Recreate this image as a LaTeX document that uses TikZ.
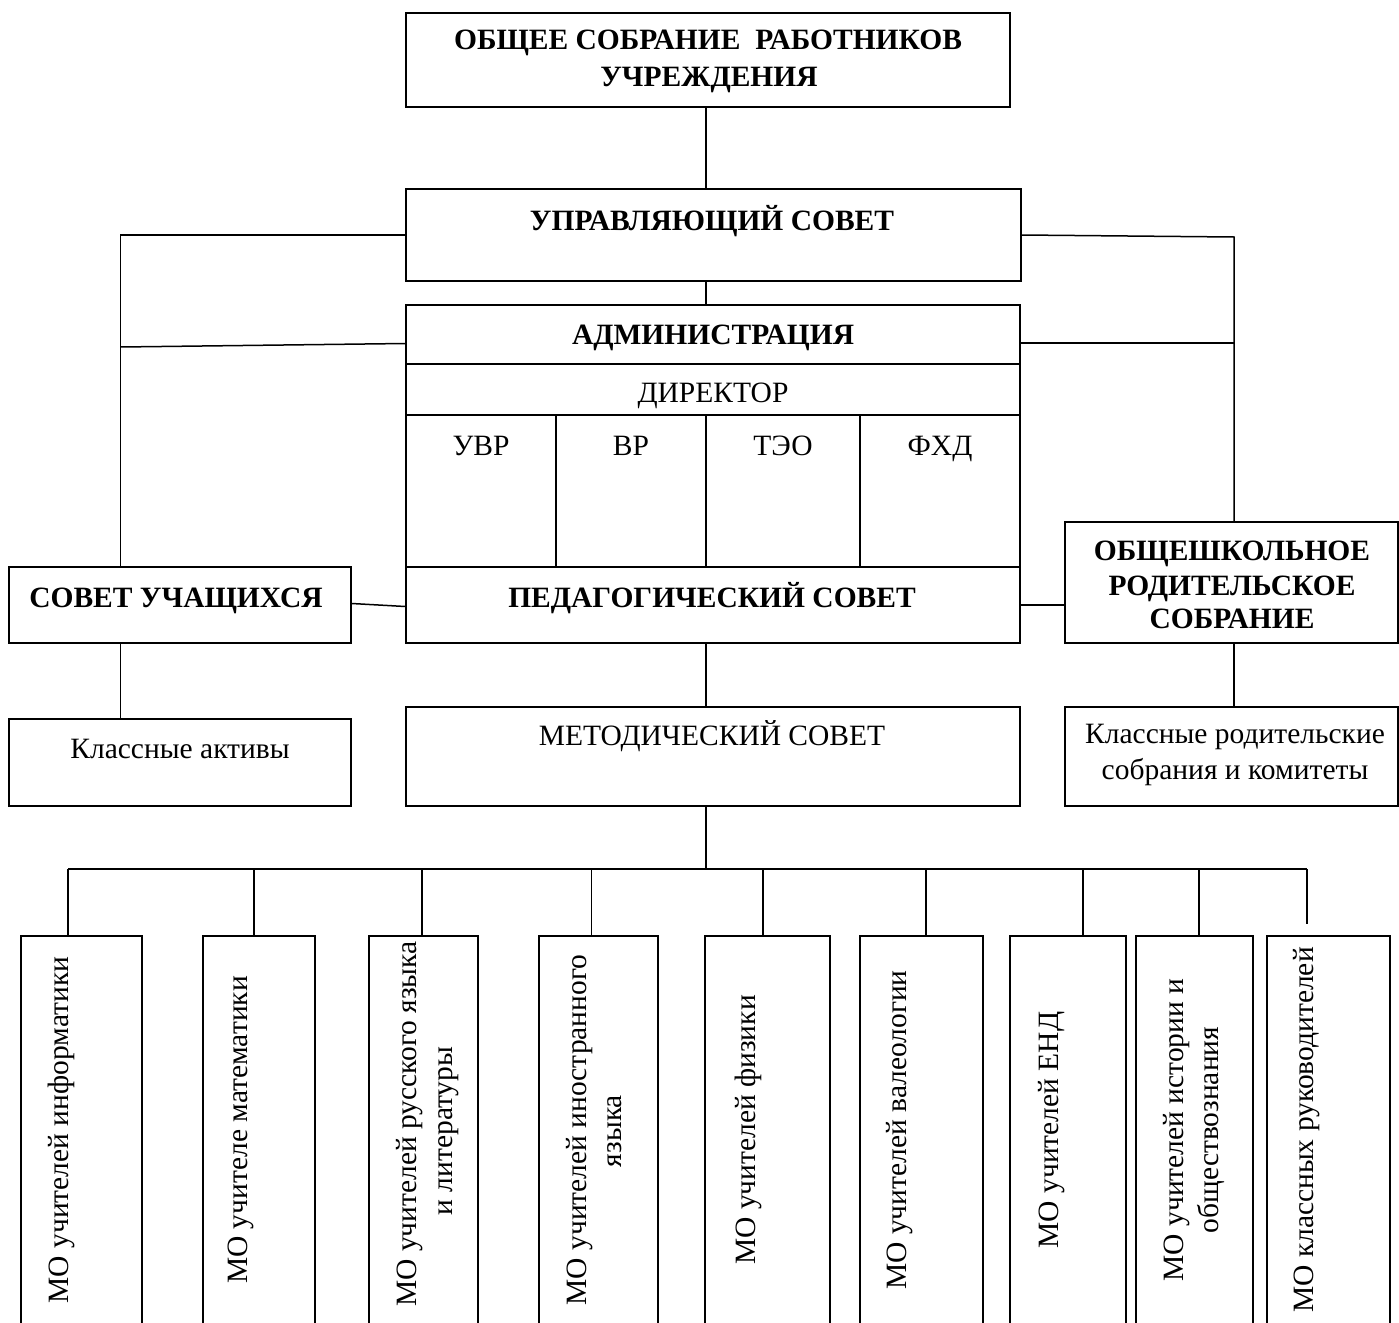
\documentclass[tikz,border=0pt]{standalone}
\usepackage{fontspec}
\setmainfont{Liberation Serif}
\begin{document}
\begin{tikzpicture}[x=1pt,y=-1pt,
  box/.style={draw, line width=1.5pt, rectangle, inner sep=0pt},
  ln/.style={line width=1.5pt},
  lbl/.style={anchor=base, inner sep=0pt, font=\fontsize{29.5}{36}\selectfont},
  blbl/.style={anchor=base, inner sep=0pt, font=\fontsize{29.5}{36}\selectfont\bfseries},
  vlbl/.style={anchor=base, inner sep=0pt, rotate=90, font=\fontsize{29.5}{36}\selectfont}]
\useasboundingbox (0,0) rectangle (1399,1322);
% boxes
\node[box, minimum width=604pt, minimum height=94pt] (top) at (708,60) {};
\node[box, minimum width=615pt, minimum height=92pt] (us) at (713.5,235) {};
\node[box, minimum width=614pt, minimum height=59pt] (adm) at (713,334.5) {};
\node[box, minimum width=614pt, minimum height=51pt] (dir) at (713,389.5) {};
\node[box, minimum width=150pt, minimum height=152pt] (uvr) at (481,491) {};
\node[box, minimum width=150pt, minimum height=152pt] (vr) at (631,491) {};
\node[box, minimum width=154pt, minimum height=152pt] (teo) at (783,491) {};
\node[box, minimum width=160pt, minimum height=152pt] (fhd) at (940,491) {};
\node[box, minimum width=614pt, minimum height=76pt] (ped) at (713,605) {};
\node[box, minimum width=342pt, minimum height=76pt] (su) at (180,605) {};
\node[box, minimum width=333pt, minimum height=121pt] (ors) at (1231.5,582.5) {};
\node[box, minimum width=342pt, minimum height=87pt] (ka) at (180,762.5) {};
\node[box, minimum width=614pt, minimum height=99pt] (mc) at (713,756.5) {};
\node[box, minimum width=333pt, minimum height=99pt] (krs) at (1231.5,756.5) {};
\foreach \n/\c/\w in {m1/81.5/121, m2/259/112, m3/423.5/109, m4/598.5/119, m5/767.5/125,
                     m6/921.5/123, m7/1068/116, m8/1194.5/117, m9/1328.5/123}
  \node[box, minimum width=\w pt, minimum height=390pt] (\n) at (\c,1131) {};
% texts
\node[blbl] (ttop1) at (708,50) {ОБЩЕЕ СОБРАНИЕ \ РАБОТНИКОВ};
\node[blbl] (ttop2) at (709,86) {УЧРЕЖДЕНИЯ};
\node[blbl] (tus) at (712,230) {УПРАВЛЯЮЩИЙ СОВЕТ};
\node[blbl] (tadm) at (713,344) {АДМИНИСТРАЦИЯ};
\node[lbl] (tdir) at (713,402) {ДИРЕКТОР};
\node[lbl] (tuvr) at (481,455) {УВР};
\node[lbl] (tvr) at (631,455) {ВР};
\node[lbl] (tteo) at (783,455) {ТЭО};
\node[lbl] (tfhd) at (940,455) {ФХД};
\node[blbl] (tped) at (712,607) {ПЕДАГОГИЧЕСКИЙ СОВЕТ};
\node[blbl] (tsu) at (176,607) {СОВЕТ УЧАЩИХСЯ};
\node[blbl] (tors1) at (1232,560) {ОБЩЕШКОЛЬНОЕ};
\node[blbl] (tors2) at (1232,595) {РОДИТЕЛЬСКОЕ};
\node[blbl] (tors3) at (1232,628) {СОБРАНИЕ};
\node[lbl] (tka) at (180,758) {Классные активы};
\node[lbl] (tmc) at (712,745) {МЕТОДИЧЕСКИЙ СОВЕТ};
\node[lbl] (tkrs1) at (1235,743) {Классные родительские};
\node[lbl] (tkrs2) at (1235,779) {собрания и комитеты};
\node[vlbl] (tm1) at (68.5,1130) {МО учителей информатики};
\node[vlbl] (tm2) at (247.5,1130) {МО учителе математики};
\node[vlbl] (tm3a) at (416.5,1124) {МО учителей русского языка};
\node[vlbl] (tm3b) at (452,1131) {и литературы};
\node[vlbl] (tm4a) at (586.5,1130) {МО учителей иностранного};
\node[vlbl] (tm4b) at (621,1131) {языка};
\node[vlbl] (tm5) at (755.5,1130) {МО учителей физики};
\node[vlbl] (tm6) at (906.5,1130) {МО учителей валеологии};
\node[vlbl] (tm7) at (1058.5,1130) {МО учителей ЕНД};
\node[vlbl] (tm8a) at (1183.5,1130) {МО учителей истории и};
\node[vlbl] (tm8b) at (1218,1130) {обществознания};
\node[vlbl] (tm9) at (1313.5,1130) {МО классных руководителей};
% connector coordinates
\coordinate (lb) at (120.5,235);
\coordinate (la) at (120.5,347);
\coordinate (rb) at (1234,237);
\coordinate (ra) at (1234,343);
\coordinate (cx) at (706,869);
\coordinate (b1) at (68,869);
\coordinate (b2) at (254,869);
\coordinate (b3) at (422,869);
\coordinate (b4) at (591.5,869);
\coordinate (b5) at (763,869);
\coordinate (b6) at (926,869);
\coordinate (b7) at (1083,869);
\coordinate (b8) at (1199,869);
\coordinate (b9) at (1307,869);
\coordinate (b9e) at (1307,924);
% connectors
\draw[ln] (cx |- top.south) -- (cx |- us.north);
\draw[ln] (cx |- us.south) -- (cx |- adm.north);
\draw[ln] (us.west) -- (lb) -- (lb |- su.north);
\draw[ln] ([yshift=-9pt]adm.west) -- (la);
\draw[ln] (us.east) -- (rb) -- (rb |- ors.north);
\draw[ln] ([yshift=-8.5pt]adm.east) -- (ra);
\draw[ln] ([yshift=1.5pt]su.east) -- ([yshift=-1.5pt]ped.west);
\draw[ln] (ped.east) -- (ped.east -| ors.west);
\draw[ln] (lb |- su.south) -- (lb |- ka.north);
\draw[ln] (cx |- ped.south) -- (cx |- mc.north);
\draw[ln] (rb |- ors.south) -- (rb |- krs.north);
\draw[ln] (cx |- mc.south) -- (cx);
\draw[ln] (b1) -- (b9);
\draw[ln] (b1) -- (b1 |- m1.north);
\draw[ln] (b2) -- (b2 |- m2.north);
\draw[ln] (b3) -- (b3 |- m3.north);
\draw[ln] (b4) -- (b4 |- m4.north);
\draw[ln] (b5) -- (b5 |- m5.north);
\draw[ln] (b6) -- (b6 |- m6.north);
\draw[ln] (b7) -- (b7 |- m7.north);
\draw[ln] (b8) -- (b8 |- m8.north);
\draw[ln] (b9) -- (b9e);
\end{tikzpicture}
\end{document}
